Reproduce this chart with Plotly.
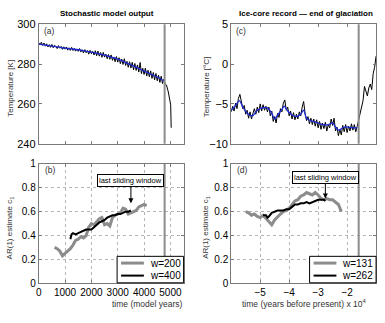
import numpy as np
import plotly.graph_objs as go

# (a) stochastic model temperature [K]
t_a = list(range(0, 4800, 50)) + [4800, 4850, 4920, 4980, 5010, 5030]
temp_a = [290.8, 289.6, 291.0, 289.4, 290.6, 289.0, 290.2, 288.6, 289.8, 288.4,
          289.9, 288.2, 289.4, 288.9, 287.8, 289.3, 288.0, 288.9, 287.4, 288.7,
          287.5, 288.6, 287.0, 288.2, 286.9, 288.4, 286.8, 287.9, 286.5, 287.6,
          286.4, 287.8, 286.1, 287.2, 285.6, 287.3, 285.7, 286.8, 285.0, 286.9,
          285.2, 286.4, 284.6, 286.7, 284.2, 286.5, 284.0, 285.8, 283.4, 285.9,
          283.5, 285.0, 282.7, 284.8, 282.4, 284.6, 281.9, 283.6, 281.2, 283.8,
          281.0, 283.2, 280.2, 282.5, 279.8, 282.7, 279.3, 281.4, 278.4, 281.2,
          278.0, 280.9, 277.1, 280.3, 276.8, 279.6, 276.0, 280.8, 275.2, 277.9,
          274.8, 278.0, 274.0, 276.9, 273.6, 276.6, 272.8, 275.8, 272.1, 275.3,
          271.6, 274.4, 270.8, 273.9, 270.2, 272.4,
          270.0, 269.5, 266.0, 262.0, 259.5, 248.0]
t_a_smooth = [0, 250, 500, 750, 1000, 1250, 1500, 1750, 2000, 2250, 2500,
              2750, 3000, 3250, 3500, 3750, 4000, 4250, 4500, 4750]
temp_a_smooth = [290.0, 289.5, 289.0, 288.5, 288.0, 287.6, 287.2, 286.6, 286.0, 285.3,
                 284.5, 283.5, 282.5, 281.1, 279.6, 278.1, 276.5, 275.0, 273.5, 271.5]
tip_a = 4780

# (c) ice core temperature [deg C], years before present
t_c = np.linspace(-60000, -10000, 101)
temp_c = [-6.0, -5.3, -5.9, -4.9, -5.6, -4.3, -3.8, -5.0, -5.6, -5.2,
          -6.3, -5.8, -6.8, -6.0, -6.9, -6.2, -5.6, -6.3, -5.4, -6.1,
          -5.0, -5.9, -5.1, -5.8, -5.3, -6.0, -5.4, -6.5, -5.9, -7.2,
          -6.6, -7.4, -6.2, -6.7, -5.6, -6.0, -4.9, -4.5, -5.8, -5.4,
          -6.5, -5.9, -6.9, -6.1, -7.0, -6.3, -6.9, -6.0, -6.5, -5.4,
          -4.7, -6.2, -7.1, -6.6, -7.5, -6.8, -7.6, -6.9, -7.8, -7.0,
          -8.0, -7.2, -8.2, -7.4, -8.1, -7.3, -8.4, -7.6, -8.0, -6.9,
          -7.7, -6.8, -8.4, -7.9, -9.0, -8.2, -8.9, -7.7, -8.5, -7.6,
          -8.6, -7.8, -8.4, -7.5, -8.3, -7.6, -8.5, -7.8,
          -7.0, -6.0, -5.3, -4.6, -2.8, -3.6, -4.0, -3.0, -2.5, -3.2,
          -1.2, -0.4, 1.0]
t_c_smooth = [-60000, -58500, -57200, -56000, -54400, -52700, -51000, -49300,
              -47500, -46000, -45000, -44000, -42500, -41700, -40500, -39000,
              -37500, -36000, -35000, -34000, -32500, -30700, -28500, -26500,
              -25000, -24000, -22900, -21500, -20000, -18400, -16500]
temp_c_smooth = [-5.8, -5.2, -4.6, -5.4, -6.2, -6.5, -5.8, -5.5, -5.5, -6.2,
                 -6.9, -6.4, -5.7, -5.3, -5.9, -6.4, -6.6, -6.3, -5.8, -6.8,
                 -7.1, -7.3, -7.6, -7.6, -7.4, -7.9, -8.3, -8.0, -7.9, -8.0, -8.0]
tip_c = -16000

# (b) AR(1) estimates, model
t_b200 = [600, 700, 800, 900, 1000, 1100, 1200, 1300, 1400, 1500, 1600, 1700,
          1800, 1900, 2000, 2100, 2200, 2300, 2400, 2500, 2600, 2700, 2800, 2900,
          3000, 3100, 3200, 3300, 3400, 3500, 3600, 3700, 3800, 3900, 4000, 4100]
ar_b200 = [0.30, 0.29, 0.27, 0.23, 0.25, 0.27, 0.29, 0.32, 0.36, 0.37, 0.39, 0.38,
           0.40, 0.47, 0.50, 0.49, 0.52, 0.54, 0.55, 0.49, 0.50, 0.48, 0.55, 0.57,
           0.58, 0.59, 0.63, 0.62, 0.58, 0.59, 0.60, 0.61, 0.64, 0.65, 0.66, 0.65]
t_b400 = [1200, 1250, 1300, 1400, 1500, 1600, 1700, 1800, 1900, 2000, 2100, 2200,
          2300, 2400, 2500, 2600, 2700, 2800, 2900, 3000, 3100, 3200, 3300, 3400, 3500]
ar_b400 = [0.37, 0.41, 0.42, 0.41, 0.42, 0.43, 0.44, 0.45, 0.45, 0.45, 0.47, 0.49,
           0.51, 0.52, 0.53, 0.55, 0.56, 0.57, 0.57, 0.58, 0.58, 0.59, 0.60, 0.60, 0.61]

# (d) AR(1) estimates, ice core
t_d131 = [-55000, -54000, -53000, -52000, -51000, -50000, -49000, -48000, -47000,
          -46000, -45000, -44000, -43000, -42000, -41000, -40000, -39000, -38000,
          -37000, -36000, -35000, -34000, -33000, -32000, -31000, -30000, -29000,
          -28000, -27000, -26000, -25000, -24000, -23000, -22000]
ar_d131 = [0.60, 0.59, 0.57, 0.58, 0.56, 0.55, 0.57, 0.54, 0.52, 0.49, 0.53, 0.56,
           0.58, 0.60, 0.61, 0.63, 0.66, 0.69, 0.70, 0.73, 0.74, 0.76, 0.75, 0.74,
           0.76, 0.74, 0.71, 0.70, 0.71, 0.70, 0.70, 0.68, 0.66, 0.60]
t_d262 = [-49000, -48000, -47500, -47000, -46000, -45000, -44000, -43000, -42000,
          -41000, -40000, -39000, -38000, -37000, -36000, -35000, -34000, -33000,
          -32000, -31000, -30000, -29000, -28000, -27500]
ar_d262 = [0.57, 0.57, 0.55, 0.56, 0.59, 0.60, 0.61, 0.61, 0.61, 0.62, 0.62, 0.64,
           0.66, 0.66, 0.67, 0.67, 0.68, 0.67, 0.68, 0.69, 0.70, 0.70, 0.70, 0.69]

legend_b = ['w=200', 'w=400']
legend_d = ['w=131', 'w=262']

W, H = 385, 323
def px_x(a, b):
    return [a / W, b / W]
def px_y(top, bottom):
    return [(H - bottom) / H, (H - top) / H]
def X(p):
    return p / W
def Y(p):
    return 1 - p / H

FONT = 'Liberation Sans'
GRAY = '#8c8c8c'
FRAME = '#7a7a7a'
BLUE = '#1f2bd6'

fig = go.Figure()
fig.add_trace(go.Scatter(x=t_a, y=temp_a, mode='lines', line=dict(color='black', width=1),
                         xaxis='x', yaxis='y'))
fig.add_trace(go.Scatter(x=t_a_smooth, y=temp_a_smooth, mode='lines', line=dict(color=BLUE, width=1.3, shape='spline'),
                         xaxis='x', yaxis='y'))
fig.add_trace(go.Scatter(x=t_c, y=temp_c, mode='lines', line=dict(color='black', width=1),
                         xaxis='x2', yaxis='y2'))
fig.add_trace(go.Scatter(x=t_c_smooth, y=temp_c_smooth, mode='lines', line=dict(color=BLUE, width=1.3, shape='spline'),
                         xaxis='x2', yaxis='y2'))
fig.add_trace(go.Scatter(x=t_b200, y=ar_b200, mode='lines', name=legend_b[0], line=dict(color=GRAY, width=3),
                         xaxis='x3', yaxis='y3'))
fig.add_trace(go.Scatter(x=t_b400, y=ar_b400, mode='lines', name=legend_b[1], line=dict(color='black', width=2),
                         xaxis='x3', yaxis='y3'))
fig.add_trace(go.Scatter(x=t_d131, y=ar_d131, mode='lines', name=legend_d[0], line=dict(color=GRAY, width=3),
                         xaxis='x4', yaxis='y4'))
fig.add_trace(go.Scatter(x=t_d262, y=ar_d262, mode='lines', name=legend_d[1], line=dict(color='black', width=2),
                         xaxis='x4', yaxis='y4'))

# tipping point markers
shapes = []
for xr, yr, xv in [('x', 'y', tip_a), ('x3', 'y3', tip_a), ('x2', 'y2', tip_c), ('x4', 'y4', tip_c)]:
    shapes.append(dict(type='line', xref=xr, yref=yr + ' domain', x0=xv, x1=xv, y0=0, y1=1,
                       line=dict(color=GRAY, width=2)))

ax_common = dict(showline=True, mirror='allticks', linecolor=FRAME, linewidth=1, ticks='inside',
                 ticklen=3, tickcolor=FRAME, zeroline=False,
                 tickfont=dict(family=FONT, size=10, color='black'))
grid = dict(showgrid=True, gridcolor='#b5b5b5', griddash='dot', gridwidth=1)

def note(text, x, y, size=8, color='#333', angle=0, xanchor='center', yanchor='middle'):
    return dict(text=text, x=X(x), y=Y(y), xref='paper', yref='paper', textangle=angle,
                xanchor=xanchor, yanchor=yanchor, showarrow=False,
                font=dict(family=FONT, size=size, color=color))

annotations = [
    note('<b>Stochastic model output</b>', 105, 8, color='black'),
    note('<b>Ice-core record \u2014 end of glaciation</b>', 305, 8, color='black'),
    note('Temperature [K]', 8, 85, angle=-90),
    note('Temperature [\u00b0C]', 205, 84, angle=-90),
    note('AR(1) estimate c<sub>1</sub>', 8, 230, angle=-90),
    note('AR(1) estimate c<sub>1</sub>', 205, 230, angle=-90),
    note('time (model years)', 183, 310, size=8.5, xanchor='right'),
    note('time (years before present) x 10<sup>4</sup>', 303, 309, size=8.5),
    note('(a)', 39, 26, size=8.5, xanchor='left'),
    note('(c)', 233, 26, size=8.5, xanchor='left'),
    note('(b)', 40, 170, size=8.5, xanchor='left'),
    note('(d)', 234, 170, size=8.5, xanchor='left'),
    dict(text='last sliding window', x=3500, y=0.67, xref='x3', yref='y3', ax=0, ay=-23,
         showarrow=True, arrowhead=2, arrowsize=1, arrowwidth=1, arrowcolor='black',
         bgcolor='white', bordercolor='black', borderwidth=1, borderpad=1,
         font=dict(family=FONT, size=7.5, color='black')),
    dict(text='last sliding window', x=-27500, y=0.71, xref='x4', yref='y4', ax=0, ay=-21,
         showarrow=True, arrowhead=2, arrowsize=1, arrowwidth=1, arrowcolor='black',
         bgcolor='white', bordercolor='black', borderwidth=1, borderpad=1,
         font=dict(family=FONT, size=7.5, color='black')),
]

# legends drawn by hand, matlab style boxes in the lower right corners
for left, right, names in [(115, 182, legend_b), (309, 376, legend_d)]:
    shapes.append(dict(type='rect', xref='paper', yref='paper', x0=X(left), x1=X(right),
                       y0=Y(287.5), y1=Y(260), line=dict(color='black', width=1), fillcolor='white'))
    for row, (name, col, lw) in enumerate(zip(names, [GRAY, 'black'], [3, 2])):
        yy = 267 + row * 13
        shapes.append(dict(type='line', xref='paper', yref='paper', x0=X(left + 4), x1=X(left + 27),
                           y0=Y(yy), y1=Y(yy), line=dict(color=col, width=lw)))
        annotations.append(note(name, left + 31, yy, size=10, color='black', xanchor='left'))

layout = go.Layout(
    width=W, height=H, margin=dict(l=0, r=0, t=0, b=0),
    paper_bgcolor='white', plot_bgcolor='white', showlegend=False, hovermode=False,
    font=dict(family=FONT),
    xaxis=dict(ax_common, domain=px_x(36, 182), range=[0, 5500], showticklabels=False,
               tickvals=[0, 1000, 2000, 3000, 4000, 5000], showgrid=False, anchor='y'),
    yaxis=dict(ax_common, domain=px_y(19, 143), range=[240, 300], tickvals=[240, 260, 280, 300],
               showgrid=False, anchor='x', tickfont=dict(family=FONT, size=11, color='black')),
    xaxis2=dict(ax_common, domain=px_x(230, 376), range=[-60000, -10000], showticklabels=False,
                tickvals=[-50000, -40000, -30000, -20000], showgrid=False, anchor='y2'),
    yaxis2=dict(ax_common, domain=px_y(19, 143), range=[-10, 5], tickvals=[-10, -5, 0, 5],
                showgrid=False, anchor='x2', tickfont=dict(family=FONT, size=11, color='black')),
    xaxis3=dict(ax_common, **grid, domain=px_x(36, 182), range=[0, 5500],
                tickvals=[0, 1000, 2000, 3000, 4000, 5000], anchor='y3'),
    yaxis3=dict(ax_common, **grid, domain=px_y(164, 288), range=[0, 1],
                tickvals=[0, 0.2, 0.4, 0.6, 0.8, 1], anchor='x3'),
    xaxis4=dict(ax_common, **grid, domain=px_x(230, 376), range=[-60000, -10000],
                tickvals=[-50000, -40000, -30000, -20000], ticktext=['\u22125', '\u22124', '\u22123', '\u22122'],
                anchor='y4'),
    yaxis4=dict(ax_common, **grid, domain=px_y(164, 288), range=[0, 1],
                tickvals=[0, 0.2, 0.4, 0.6, 0.8, 1], anchor='x4'),
    shapes=shapes,
    annotations=annotations,
)
fig.update_layout(layout)
# page body has an 8px default margin, drop it so the figure fills the window
fig.write_html('out.html', config={'displayModeBar': False},
               post_script="document.body.style.margin='0px';")
